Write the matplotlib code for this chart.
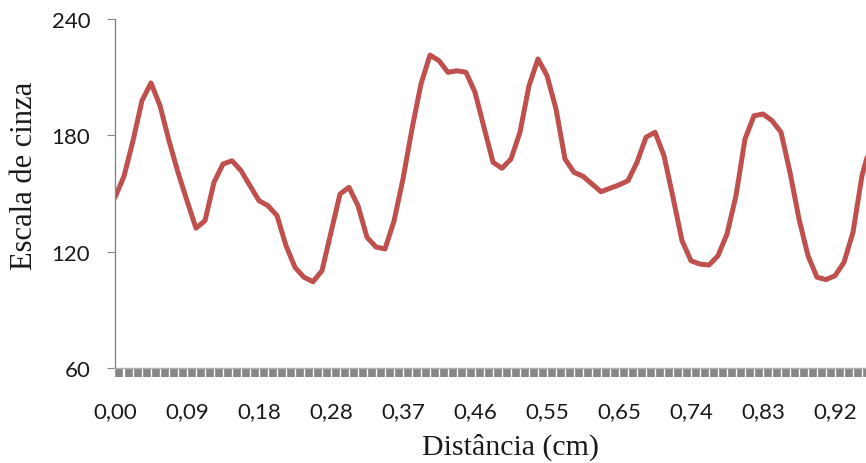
import numpy as np
import matplotlib
matplotlib.use("Agg")
import matplotlib.pyplot as plt
from matplotlib.ticker import FixedLocator

# grey level along the profile, one value per category
gray_values = [
    148.0, 158.9, 177.2, 197.9, 207.0, 195.3, 177.2, 160.9, 146.3, 132.1,
    136.0, 155.8, 165.2, 166.9, 161.8, 154.0, 146.3, 143.7, 138.6, 123.1,
    111.9, 106.8, 104.5, 110.2, 130.0, 149.7, 153.2, 143.7, 127.4, 122.4,
    121.4, 135.8, 157.5, 183.3, 206.5, 221.4, 218.5, 212.5, 213.3, 212.5,
    202.2, 184.1, 166.1, 163.0, 167.8, 181.6, 205.6, 219.4, 210.8, 193.6,
    167.8, 160.9, 158.9, 154.9, 150.9, 152.7, 154.4, 156.6, 166.1, 179.0,
    181.6, 169.5, 148.0, 125.7, 115.3, 113.6, 113.1, 117.9, 129.1, 148.9,
    178.1, 190.1, 191.0, 187.6, 181.6, 160.9, 136.9, 117.9, 106.8, 105.6,
    107.6, 114.5, 130.0, 159.2, 176.0,
]

# one label every 8 categories
label_step = 8
x_labels = ["0,00", "0,09", "0,18", "0,28", "0,37", "0,46",
            "0,55", "0,65", "0,74", "0,83", "0,92"]
y_ticks = [60, 120, 180, 240]

RED = "#C0504D"
GREY = "#868686"
TXT = "#1a1a1a"

fig = plt.figure(figsize=(8.66, 4.64), dpi=100)
# plot area runs past the right edge of the picture, as in the original
ax = fig.add_axes([115 / 866, 95 / 464, 792 / 866, 349 / 464])

x = np.arange(len(gray_values))
ax.plot(x, gray_values, color=RED, linewidth=3.6, solid_capstyle="round",
        solid_joinstyle="round")

ax.set_xlim(0, 88)
ax.set_ylim(60, 240)

ax.set_yticks(y_ticks)
ax.set_yticklabels([str(v) for v in y_ticks])
ax.set_xticks(np.arange(len(x_labels)) * label_step)
ax.set_xticklabels(x_labels)
ax.xaxis.set_minor_locator(FixedLocator(np.arange(0, 88) + 0.5))

for s in ["top", "right"]:
    ax.spines[s].set_visible(False)
ax.spines["left"].set_color(GREY)
ax.spines["left"].set_linewidth(1.0)
ax.spines["bottom"].set_color("#B0B0B0")
ax.spines["bottom"].set_linewidth(1.0)

ax.tick_params(axis="y", direction="out", length=5.8, width=0.8,
               color=GREY, pad=12, labelsize=16, labelcolor=TXT)
ax.tick_params(axis="x", which="major", length=0, pad=23.5,
               labelsize=16, labelcolor=TXT)
ax.tick_params(axis="x", which="minor", direction="out", length=6.5,
               width=5.5, color=GREY)
for lab in ax.get_xticklabels() + ax.get_yticklabels():
    lab.set_fontfamily("Lato")

fig.text(32 / 866, 0.621, "Escala de cinza", rotation=90,
         rotation_mode="anchor", ha="center", va="baseline",
         family="Liberation Serif", size=22, color=TXT)
fig.text(511 / 866, 9 / 464, "Distância (cm)", ha="center", va="baseline",
         family="Liberation Serif", size=21.5, color=TXT)

fig.savefig("out.png", dpi=100)
